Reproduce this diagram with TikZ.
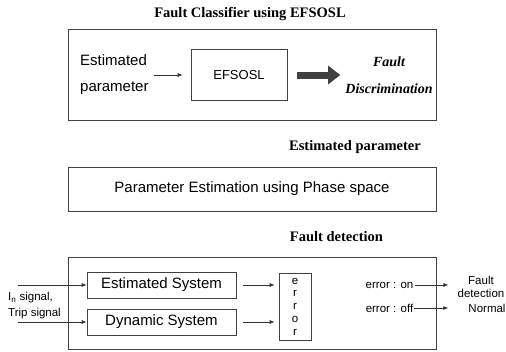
\documentclass[tikz,border=0pt]{standalone}
\usepackage{fontspec}
\setmainfont{Liberation Serif}
\newfontfamily\arialf{Liberation Sans}
\usetikzlibrary{arrows.meta}
\begin{document}
\begin{tikzpicture}[x=1pt,y=-1pt,
 frame/.style={draw=black!75, line width=0.6pt, rectangle, inner sep=0pt},
 ttl/.style={font=\fontsize{14.5}{17}\selectfont\bfseries, inner sep=0pt},
 sans/.style={font=\arialf\fontsize{15}{26}\selectfont, inner sep=0pt},
 small/.style={font=\arialf\fontsize{11.5}{13}\selectfont, inner sep=0pt},
 arr/.style={draw=black!80, line width=0.7pt, -{Latex[length=5pt,width=4pt]}},
]
\useasboundingbox (0,0) rectangle (506,351);
% top block
\node[ttl] (t1) at (250,14) {Fault Classifier using EFSOSL};
\node[frame, minimum width=368pt, minimum height=91pt] (box1) at (252,74.5) {};
\node[sans, align=left, anchor=west] (estp) at (80,75) {Estimated\\parameter};
\node[frame, minimum width=96pt, minimum height=51pt, font=\arialf\fontsize{13}{15}\selectfont] (efs) at (239,75) {EFSOSL};
\node[font=\fontsize{14}{27}\selectfont\bfseries\itshape, align=center, inner sep=0pt] (fd) at (389,75) {Fault\\Discrimination};
\draw[arr, shorten <=5pt, shorten >=8pt] (estp.east) -- (efs.west);
\draw[line width=7pt, black!75, -{Triangle[length=12pt,width=18pt]}, shorten <=10pt, shorten >=5pt] (efs.east) -- (fd.west);
% middle block
\node[ttl] (t2) at (355,147) {Estimated parameter};
\node[frame, sans, minimum width=368pt, minimum height=44pt] (box2) at (252,189) {Parameter Estimation using Phase space};
% bottom block
\node[ttl] (t3) at (336.5,237) {Fault detection};
\node[frame, minimum width=368pt, minimum height=92pt] (box3) at (252,303) {};
\node[frame, sans, minimum width=149pt, minimum height=26pt] (es) at (161.5,285) {Estimated System};
\node[frame, sans, minimum width=149pt, minimum height=26pt] (ds) at (161.5,322) {Dynamic System};
\node[frame, minimum width=32pt, minimum height=67pt, align=center, font=\arialf\fontsize{11.5}{12.75}\selectfont] (err) at (295,306.5) {e\\r\\r\\o\\r};
\draw[arr, shorten <=7pt, shorten >=4pt] (es.east) -- (es.east -| err.west);
\draw[arr, shorten <=7pt, shorten >=4pt] (ds.east) -- (ds.east -| err.west);
\coordinate (in1) at (18,285);
\coordinate (in2) at (18,322);
\draw[arr] (in1) -- (es.west);
\draw[arr] (in2) -- (ds.west);
\node[small, anchor=west] (lbl1) at (8,298) {I\textsubscript{n} signal,};
\node[small, anchor=west] (lbl2) at (8,314) {Trip signal};
\node[small] (eon) at (389.5,285) {error : on};
\node[small] (eoff) at (389.5,308) {error : off};
\node[small, align=center] (fdet) at (481,287) {Fault\\detection};
\node[small] (norm) at (487,308) {Normal};
\draw[arr, shorten <=1pt, shorten >=9pt] (eon.east) -- (eon.east -| fdet.west);
\draw[arr, shorten <=1pt, shorten >=20pt] (eoff.east) -- (norm.west);
\end{tikzpicture}
\end{document}
